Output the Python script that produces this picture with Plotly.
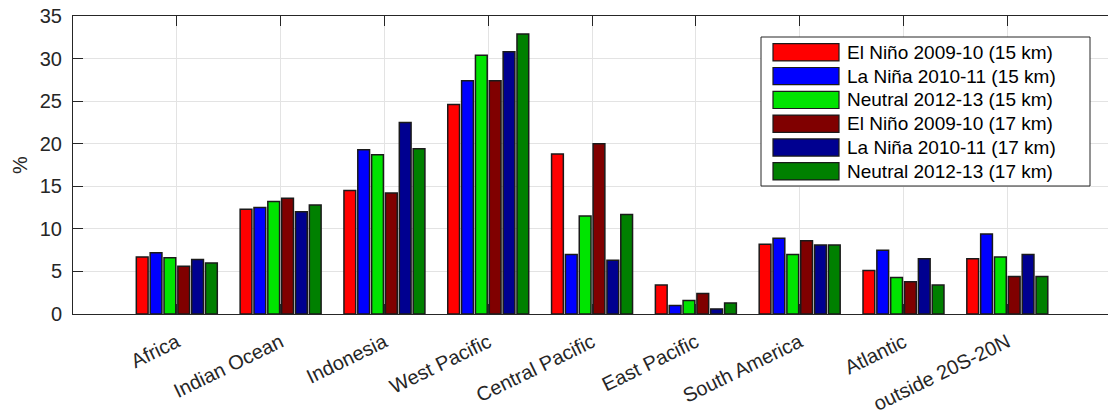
import plotly.graph_objects as go

# Regions (x categories)
regions = ["Africa", "Indian Ocean", "Indonesia", "West Pacific", "Central Pacific",
           "East Pacific", "South America", "Atlantic", "outside 20S-20N"]

# Percentage of occurrences per region for each period / level
elnino_15 = [6.7, 12.3, 14.5, 24.6, 18.8, 3.4, 8.2, 5.1, 6.5]
lanina_15 = [7.2, 12.5, 19.3, 27.4, 7.0, 1.0, 8.9, 7.5, 9.4]
neutral_15 = [6.6, 13.2, 18.7, 30.4, 11.5, 1.6, 7.0, 4.3, 6.7]
elnino_17 = [5.6, 13.6, 14.2, 27.4, 20.0, 2.4, 8.6, 3.8, 4.4]
lanina_17 = [6.4, 12.0, 22.5, 30.8, 6.3, 0.6, 8.1, 6.5, 7.0]
neutral_17 = [6.0, 12.8, 19.4, 32.9, 11.7, 1.3, 8.1, 3.4, 4.4]

series_names = ["El Niño 2009-10 (15 km)", "La Niña 2010-11 (15 km)", "Neutral 2012-13 (15 km)",
                "El Niño 2009-10 (17 km)", "La Niña 2010-11 (17 km)", "Neutral 2012-13 (17 km)"]
series_values = [elnino_15, lanina_15, neutral_15, elnino_17, lanina_17, neutral_17]
series_colors = ["#FF0000", "#0000FF", "#00E400", "#800000", "#000090", "#008000"]

FONT = "Liberation Sans, Arial, Helvetica, sans-serif"
AXIS_COLOR = "#262626"
GRID_COLOR = "#E3E3E3"
TICK_SIZE = 20

fig = go.Figure()
for name, vals, col in zip(series_names, series_values, series_colors):
    fig.add_trace(go.Bar(
        x=regions, y=vals, name=name,
        marker=dict(color=col, line=dict(color="#1A1A1A", width=1.5)),
        showlegend=False,
    ))

# Plot-area geometry in pixels (used to place the boxed legend)
W, H = 1108, 414
L, R, T, B = 73, 0, 16, 100
pw, ph = W - L - R, H - T - B


def px(x):
    return (x - L) / pw


def py(y):
    return (H - B - y) / ph


# Boxed legend with wide colour swatches
shapes = [dict(type="rect", xref="paper", yref="paper",
               x0=px(761), x1=px(1090), y0=py(186), y1=py(37),
               fillcolor="white", line=dict(color=AXIS_COLOR, width=1), layer="above")]
annotations = []
row0, pitch, half = 52.3, 23.8, 8.6
for i, (name, col) in enumerate(zip(series_names, series_colors)):
    cy = row0 + i * pitch
    shapes.append(dict(type="rect", xref="paper", yref="paper",
                       x0=px(773), x1=px(839), y0=py(cy + half), y1=py(cy - half),
                       fillcolor=col, line=dict(color="#1A1A1A", width=1.2), layer="above"))
    annotations.append(dict(xref="paper", yref="paper", x=px(845), y=py(cy),
                            text=name, showarrow=False, xanchor="left", yanchor="middle",
                            font=dict(family=FONT, size=19, color="#000000")))

fig.update_layout(
    width=W, height=H,
    margin=dict(l=L, r=R, t=T, b=B, pad=0),
    plot_bgcolor="white", paper_bgcolor="white",
    barmode="group", bargap=0.2, bargroupgap=0.15,
    font=dict(family=FONT, size=TICK_SIZE, color=AXIS_COLOR),
    showlegend=False,
    shapes=shapes, annotations=annotations,
    xaxis=dict(
        type="category", range=[-1, 8.97],
        showgrid=True, gridcolor=GRID_COLOR, gridwidth=1,
        ticks="inside", ticklen=10, tickcolor=AXIS_COLOR,
        showline=True, linecolor=AXIS_COLOR, linewidth=1, mirror="ticks",
        tickangle=-26, ticklabelstandoff=8,
        tickfont=dict(family=FONT, size=TICK_SIZE, color=AXIS_COLOR),
    ),
    yaxis=dict(
        range=[0, 35], dtick=5, tick0=0,
        showgrid=True, gridcolor=GRID_COLOR, gridwidth=1, zeroline=False,
        ticks="inside", ticklen=10, tickcolor=AXIS_COLOR,
        showline=True, linecolor=AXIS_COLOR, linewidth=1,
        ticklabelstandoff=6,
        tickfont=dict(family=FONT, size=TICK_SIZE, color=AXIS_COLOR),
        title=dict(text="%", standoff=6, font=dict(family=FONT, size=TICK_SIZE, color=AXIS_COLOR)),
    ),
    yaxis2=dict(
        overlaying="y", side="right", range=[0, 35], dtick=5, tick0=0,
        showgrid=False, zeroline=False, showline=False, showticklabels=False,
        ticks="inside", ticklen=10, tickcolor=AXIS_COLOR,
    ),
)

fig.write_html("out.html")
